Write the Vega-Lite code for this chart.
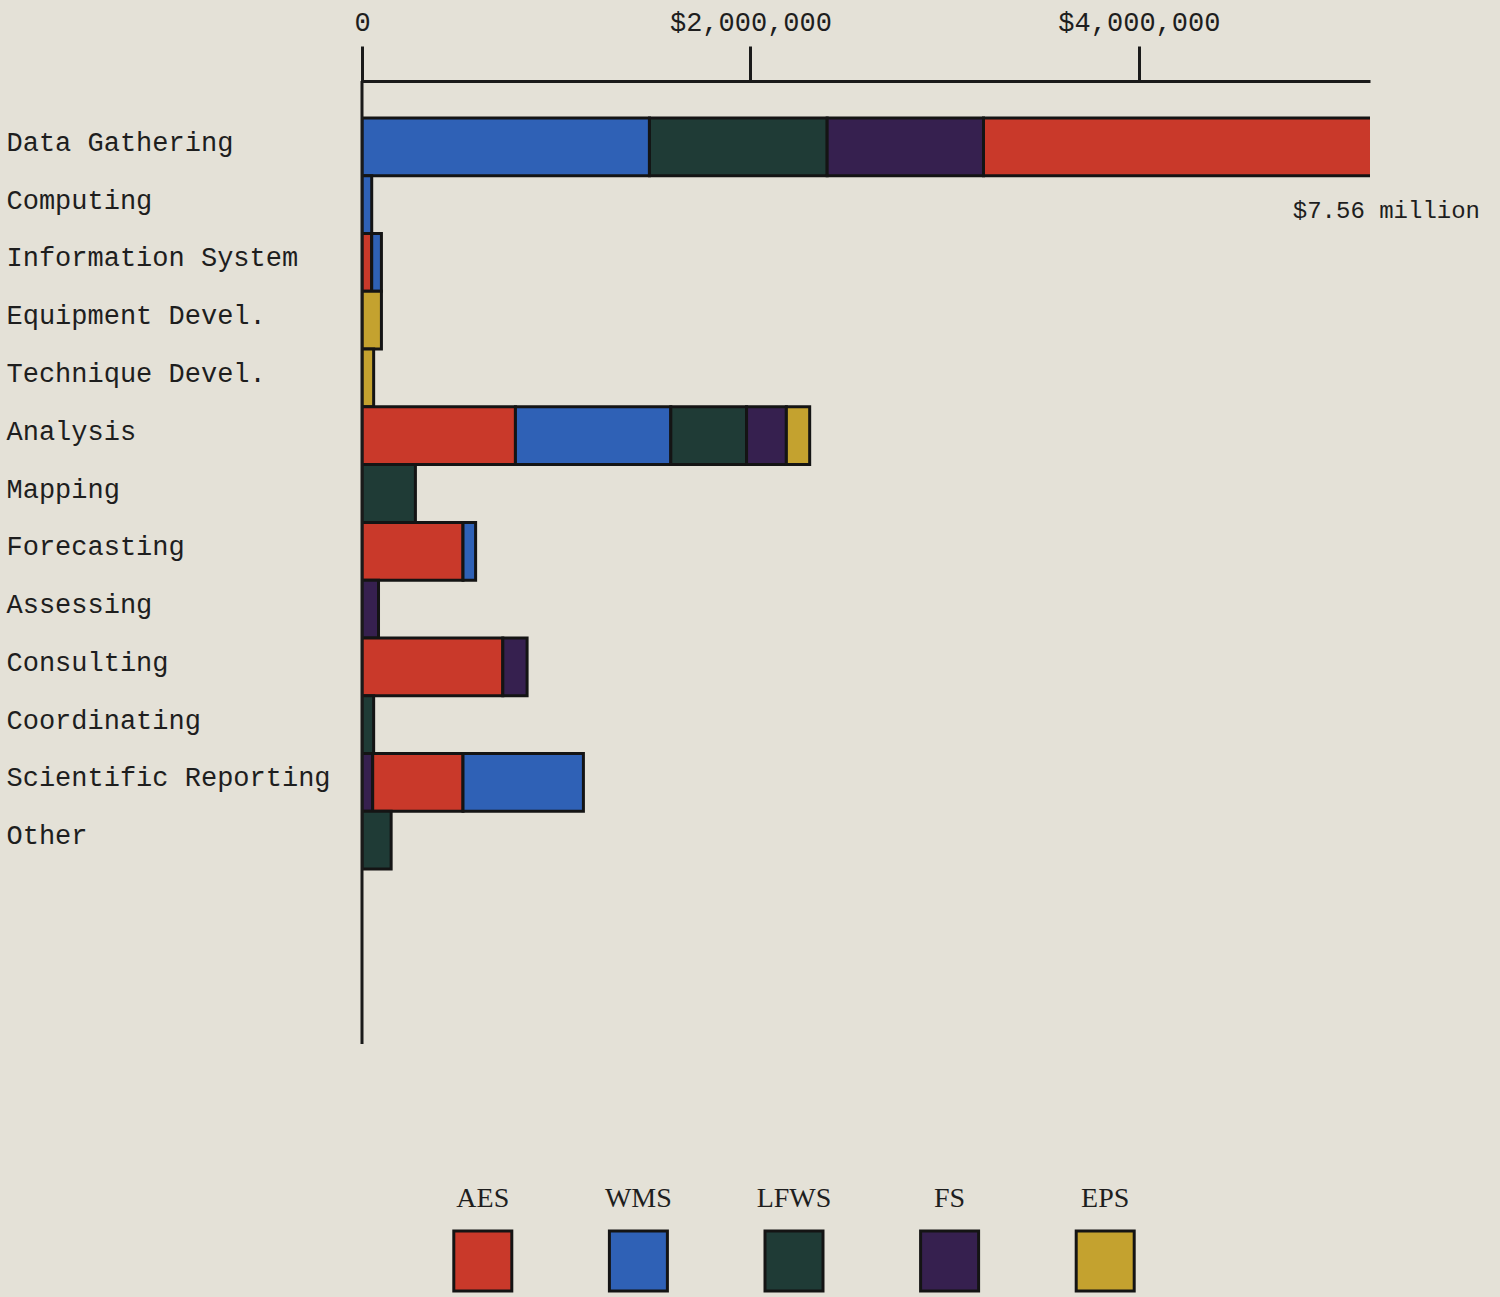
{
  "$schema": "https://vega.github.io/schema/vega-lite/v6.json",
  "background": "#e4e1d7",
  "padding": {"left": 6, "top": 8, "right": 20, "bottom": 5},
  "spacing": 139,
  "config": {
    "view": {"stroke": null},
    "font": "Liberation Mono",
    "axis": {"labelFont": "Liberation Mono", "labelColor": "#1e1e1e", "domainColor": "#1a1a1a", "tickColor": "#1a1a1a"}
  },
  "datasets": {
    "spend": [
      {"category": "Data Gathering", "division": "WMS", "amount": 1480000, "seq": 1},
      {"category": "Data Gathering", "division": "LFWS", "amount": 915000, "seq": 2},
      {"category": "Data Gathering", "division": "FS", "amount": 805000, "seq": 3},
      {"category": "Data Gathering", "division": "AES", "amount": 4360000, "seq": 4},
      {"category": "Computing", "division": "WMS", "amount": 50000, "seq": 2},
      {"category": "Information System", "division": "AES", "amount": 50000, "seq": 1},
      {"category": "Information System", "division": "WMS", "amount": 50000, "seq": 2},
      {"category": "Equipment Devel.", "division": "EPS", "amount": 100000, "seq": 5},
      {"category": "Technique Devel.", "division": "EPS", "amount": 60000, "seq": 5},
      {"category": "Analysis", "division": "AES", "amount": 790000, "seq": 1},
      {"category": "Analysis", "division": "WMS", "amount": 800000, "seq": 2},
      {"category": "Analysis", "division": "LFWS", "amount": 390000, "seq": 3},
      {"category": "Analysis", "division": "FS", "amount": 205000, "seq": 4},
      {"category": "Analysis", "division": "EPS", "amount": 120000, "seq": 5},
      {"category": "Mapping", "division": "LFWS", "amount": 275000, "seq": 3},
      {"category": "Forecasting", "division": "AES", "amount": 520000, "seq": 1},
      {"category": "Forecasting", "division": "WMS", "amount": 65000, "seq": 2},
      {"category": "Assessing", "division": "FS", "amount": 85000, "seq": 4},
      {"category": "Consulting", "division": "AES", "amount": 725000, "seq": 1},
      {"category": "Consulting", "division": "FS", "amount": 125000, "seq": 4},
      {"category": "Coordinating", "division": "LFWS", "amount": 60000, "seq": 3},
      {"category": "Scientific Reporting", "division": "FS", "amount": 55000, "seq": 0},
      {"category": "Scientific Reporting", "division": "AES", "amount": 465000, "seq": 1},
      {"category": "Scientific Reporting", "division": "WMS", "amount": 620000, "seq": 2},
      {"category": "Other", "division": "LFWS", "amount": 150000, "seq": 3}
    ],
    "notes": [
      {"category": "Data Gathering", "note": "$7.56 million"}
    ],
    "divisions": [
      {"division": "AES"}, {"division": "WMS"}, {"division": "LFWS"}, {"division": "FS"}, {"division": "EPS"}
    ]
  },
  "vconcat": [
    {
      "width": 1008,
      "height": 963,
      "encoding": {
        "y": {
          "field": "category", "type": "nominal", "sort": null,
          "scale": {"domain": ["Data Gathering", "Computing", "Information System", "Equipment Devel.", "Technique Devel.", "Analysis", "Mapping", "Forecasting", "Assessing", "Consulting", "Coordinating", "Scientific Reporting", "Other"], "range": [37, 788], "paddingInner": 0, "paddingOuter": 0},
          "axis": {"title": null, "ticks": false, "tickSize": 0, "domain": false, "labelAlign": "left", "labelPadding": 356, "labelLimit": 400, "labelFontSize": 27, "labelBaseline": "middle", "labelOffset": -4}
        }
      },
      "layer": [
        {
          "data": {"name": "spend"},
          "mark": {"type": "bar", "stroke": "#141414", "strokeWidth": 3, "clip": true},
          "encoding": {
            "x": {
              "field": "amount", "type": "quantitative", "stack": "zero",
              "scale": {"domain": [0, 5190000], "nice": false, "zero": true},
              "axis": {"orient": "top", "title": null, "grid": false, "values": [0, 2000000, 4000000], "labelExpr": "datum.value == 0 ? '0' : '$' + format(datum.value, ',')", "labelFontSize": 27, "tickSize": 35, "tickWidth": 3, "domainWidth": 3, "labelPadding": 10, "labelFlush": false}
            },
            "order": {"field": "seq", "type": "quantitative"},
            "color": {
              "field": "division", "type": "nominal",
              "scale": {"domain": ["AES", "WMS", "LFWS", "FS", "EPS"], "range": ["#c9392a", "#2f61b6", "#1f3b36", "#36204f", "#c4a22f"]},
              "legend": null
            }
          }
        },
        {
          "data": {"values": [{}]},
          "mark": {"type": "rule", "color": "#1a1a1a", "strokeWidth": 3},
          "encoding": {"x": {"datum": 0, "type": "quantitative"}, "y": null}
        },
        {
          "data": {"name": "notes"},
          "mark": {"type": "text", "align": "right", "baseline": "middle", "dx": 110, "dy": 64, "fontSize": 24, "font": "Liberation Mono", "color": "#1e1e1e"},
          "encoding": {
            "x": {"datum": 5190000, "type": "quantitative"},
            "text": {"field": "note"}
          }
        }
      ]
    },
    {
      "width": 1008,
      "height": 60,
      "data": {"name": "divisions"},
      "encoding": {
        "x": {
          "field": "division", "type": "nominal", "sort": ["AES", "WMS", "LFWS", "FS", "EPS"],
          "scale": {"range": [43, 821], "paddingInner": 0, "paddingOuter": 0},
          "axis": null
        }
      },
      "layer": [
        {
          "mark": {"type": "bar", "width": 58, "stroke": "#141414", "strokeWidth": 3},
          "encoding": {
            "color": {
              "field": "division", "type": "nominal",
              "scale": {"domain": ["AES", "WMS", "LFWS", "FS", "EPS"], "range": ["#c9392a", "#2f61b6", "#1f3b36", "#36204f", "#c4a22f"]},
              "legend": null
            }
          }
        },
        {
          "mark": {"type": "text", "baseline": "middle", "dy": -62, "fontSize": 28, "font": "Liberation Serif", "color": "#1e1e1e"},
          "encoding": {"text": {"field": "division"}}
        }
      ]
    }
  ]
}
